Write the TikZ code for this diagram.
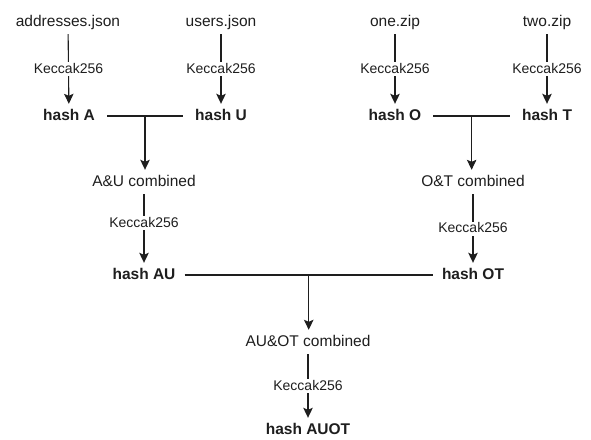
\documentclass[tikz,border=0pt]{standalone}
\usepackage{fontspec}
\setmainfont{Liberation Sans}
\usepackage{tikz}
\usetikzlibrary{arrows.meta, positioning, calc}
\usepackage{xcolor}
\definecolor{inkgray}{RGB}{30, 30, 30}

\begin{document}
\begin{tikzpicture}[x=1pt, y=-1pt,
    every node/.style={text=inkgray, inner sep=5pt, text height=11pt, text depth=3pt},
    filebox/.style={font=\fontsize{15.5}{18}\selectfont},
    hashbox/.style={font=\fontsize{15.5}{18}\selectfont\bfseries},
    algo/.style={fill=white, inner sep=1pt, text height=10pt, text depth=2pt, font=\fontsize{14}{16}\selectfont},
    flow/.style={draw=inkgray, line width=1.1pt, -{Stealth[length=10pt, width=9.5pt, inset=2pt]}},
    joinline/.style={draw=inkgray, line width=1.1pt, shorten <=7pt, shorten >=7pt}]
        \useasboundingbox (0,0) rectangle (591,439);
        % Input files
        \node[filebox] (addr) at (68,22) {addresses.json};
        \node[filebox] (users) at (221,22) {users.json};
        \node[filebox] (one) at (395,22) {one.zip};
        \node[filebox] (two) at (547,22) {two.zip};
        % First level hashes
        \node[hashbox] (hA) at (69,116) {hash A};
        \node[hashbox] (hU) at (221,116) {hash U};
        \node[hashbox] (hO) at (395,116) {hash O};
        \node[hashbox] (hT) at (547,116) {hash T};
        \draw[flow] (addr) -- node[algo] {Keccak256} (hA);
        \draw[flow] (users) -- node[algo] {Keccak256} (hU);
        \draw[flow] (one) -- node[algo] {Keccak256} (hO);
        \draw[flow] (two) -- node[algo] {Keccak256} (hT);
        % Pairwise combination
        \node[filebox] (AUc) at (144,182) {A\&U combined};
        \node[filebox] (OTc) at (473,182) {O\&T combined};
        \draw[joinline] (hA) -- coordinate[pos=0.5] (jAU) (hU);
        \draw[joinline] (hO) -- coordinate[pos=0.5] (jOT) (hT);
        \draw[flow] (jAU) -- (jAU |- AUc.north);
        \draw[flow] (jOT) -- (jOT |- OTc.north);
        \node[hashbox] (hAU) at (144,275) {hash AU};
        \node[hashbox] (hOT) at (473,275) {hash OT};
        \draw[flow] (AUc) -- node[algo, pos=0.42] {Keccak256} (hAU);
        \draw[flow] (OTc) -- node[algo] {Keccak256} (hOT);
        % Final combination
        \node[filebox] (AUOTc) at (308,342) {AU\&OT combined};
        \draw[joinline, shorten <=4pt, shorten >=4pt] (hAU) -- coordinate[pos=0.5] (jAUOT) (hOT);
        \draw[flow] (jAUOT) -- (jAUOT |- AUOTc.north);
        \node[hashbox] (hAUOT) at (308,430) {hash AUOT};
        \draw[flow] (AUOTc) -- node[algo] {Keccak256} (hAUOT);
      \end{tikzpicture}
\end{document}
